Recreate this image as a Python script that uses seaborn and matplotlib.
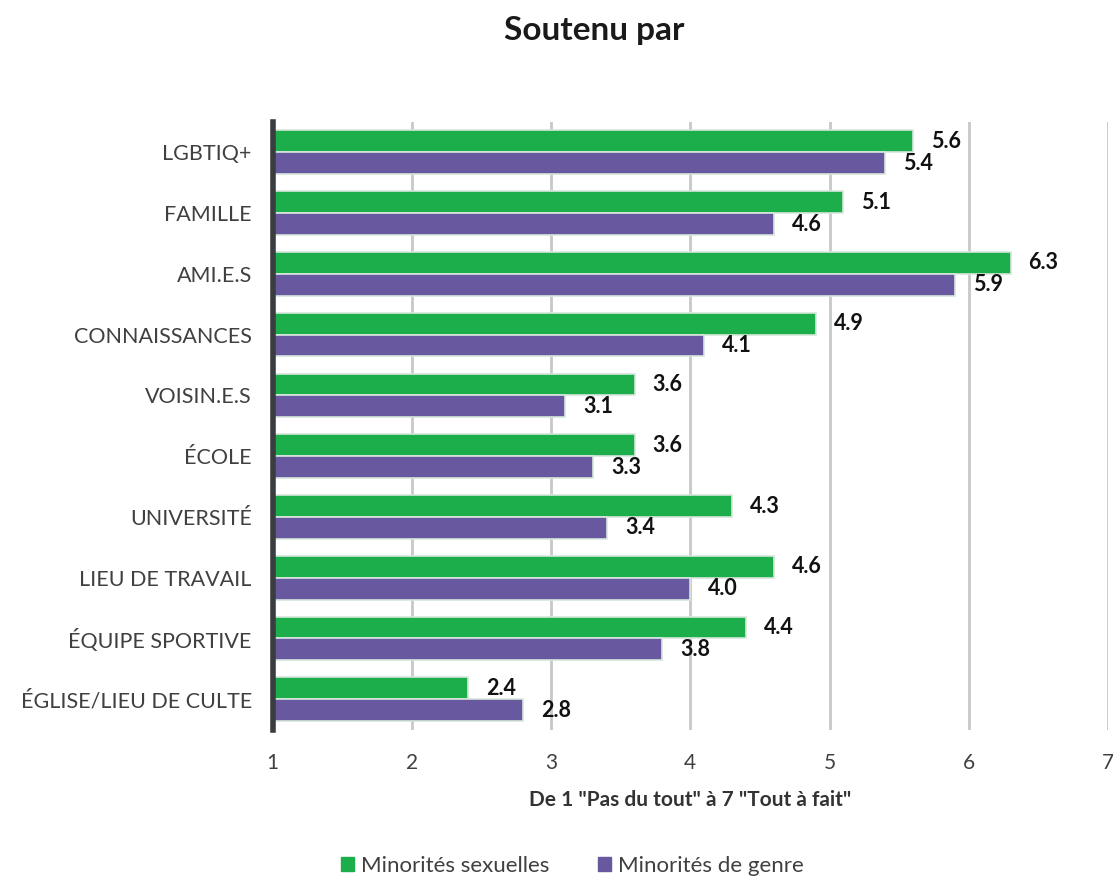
import pandas as pd
import seaborn as sns
import matplotlib.pyplot as plt

categories = ["LGBTIQ+", "FAMILLE", "AMI.E.S", "CONNAISSANCES", "VOISIN.E.S",
              "ÉCOLE", "UNIVERSITÉ", "LIEU DE TRAVAIL", "ÉQUIPE SPORTIVE",
              "ÉGLISE/LIEU DE CULTE"]
sexual = [5.6, 5.1, 6.3, 4.9, 3.6, 3.6, 4.3, 4.6, 4.4, 2.4]
gender = [5.4, 4.6, 5.9, 4.1, 3.1, 3.3, 3.4, 4.0, 3.8, 2.8]
series = ["Minorités sexuelles", "Minorités de genre"]
xticks = [1, 2, 3, 4, 5, 6, 7]

df = pd.DataFrame({
    "cat": categories * 2,
    "score": sexual + gender,
    "group": [series[0]] * len(categories) + [series[1]] * len(categories),
})

sns.set_style("white")
plt.rcParams["font.family"] = ["Lato", "DejaVu Sans"]

fig = plt.figure(figsize=(11.13, 8.77), dpi=100)
ax = fig.add_axes([0.245, 0.168, 0.7505, 0.693])

palette = {series[0]: "#1bae4b", series[1]: "#6858a0"}
sns.barplot(data=df, y="cat", x="score", hue="group", orient="h",
            palette=palette, width=0.72, ax=ax, legend=False,
            edgecolor="#d6e6dc", linewidth=1.2, saturation=1, zorder=3)

for cont in ax.containers:
    ax.bar_label(cont, fmt="%.1f", padding=13, fontsize=15.5,
                 fontweight="bold", color="#111111")

ax.set_xlim(1, 7)
ax.set_xticks(xticks)
ax.set_xticklabels([str(t) for t in xticks], fontsize=15, color="#404040")
ax.tick_params(axis="x", length=0, pad=17)
ax.tick_params(axis="y", length=0, pad=15, labelsize=15.5, labelcolor="#404040")
ax.grid(axis="x", color="#c8c8c8", linewidth=2, zorder=0)
ax.set_axisbelow(True)
for s in ["top", "right", "bottom"]:
    ax.spines[s].set_visible(False)
ax.spines["left"].set_color("#3a3d3f")
ax.spines["left"].set_linewidth(4)
ax.spines["left"].set_zorder(5)
ax.set_ylabel("")
ax.set_xlabel('De 1 "Pas du tout" à 7 "Tout à fait"', fontsize=15,
              fontweight="bold", color="#333333", labelpad=12)

fig.text(0.534, 0.965, "Soutenu par", ha="center", va="center",
         fontsize=24, fontweight="bold", color="#1a1a1a")

handles = [plt.Rectangle((0, 0), 1, 1, color=palette[s]) for s in series]
fig.legend(handles, series, loc="center", bbox_to_anchor=(0.514, 0.013),
           ncol=2, frameon=False, fontsize=16, handlelength=0.6,
           handleheight=0.6, handletextpad=0.3, columnspacing=2.2,
           labelcolor="#404040")

fig.savefig("out.png", dpi=100)
